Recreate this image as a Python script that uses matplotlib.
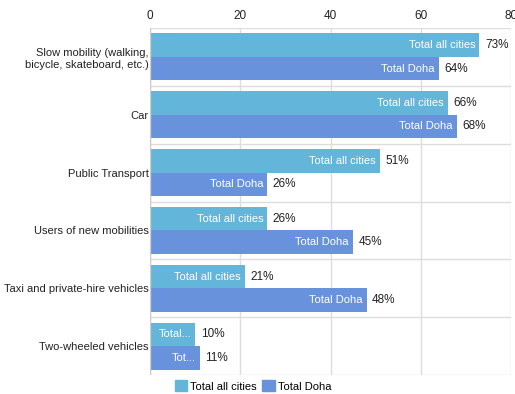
import matplotlib
matplotlib.use('Agg')
import matplotlib.pyplot as plt
import numpy as np

categories = ['Slow mobility (walking,\nbicycle, skateboard, etc.)', 'Car', 'Public Transport',
              'Users of new mobilities', 'Taxi and private-hire vehicles', 'Two-wheeled vehicles']
all_cities = [73, 66, 51, 26, 21, 10]
doha = [64, 68, 26, 45, 48, 11]
series_names = ['Total all cities', 'Total Doha']
# in-bar labels (shortened where the bar is too short)
all_cities_inner = ['Total all cities'] * 5 + ['Total...']
doha_inner = ['Total Doha'] * 5 + ['Tot...']
colors = ['#63b5da', '#6992dc']

plt.rcParams['font.family'] = ['Liberation Sans', 'DejaVu Sans']
plt.rcParams['font.size'] = 8

fig = plt.figure(figsize=(5.15, 3.94), dpi=100)
ax = fig.add_axes([150 / 515, 1 - 375 / 394, 361 / 515, 347 / 394])

y = np.arange(len(categories))
h = 0.405
bars1 = ax.barh(y - h / 2, all_cities, height=h, color=colors[0], zorder=2)
bars2 = ax.barh(y + h / 2, doha, height=h, color=colors[1], zorder=2)

ax.set_xlim(0, 80)
ax.set_ylim(len(categories) - 0.5, -0.5)
ax.set_xticks([0, 20, 40, 60, 80])
ax.xaxis.tick_top()
ax.tick_params(axis='x', length=0, pad=4, labelsize=8.5, colors='#222222')
ax.set_yticks(y)
ax.set_yticklabels(categories, fontsize=8, color='#222222')
ax.tick_params(axis='y', length=0, pad=1)
ax.set_yticks(np.arange(len(categories) + 1) - 0.5, minor=True)
ax.tick_params(axis='y', which='minor', length=0)
ax.grid(axis='x', color='#dddddd', linewidth=1, zorder=0)
ax.grid(axis='y', which='minor', color='#dddddd', linewidth=1, zorder=0)
ax.grid(axis='y', which='major', visible=False)
for s in ['left', 'right', 'top', 'bottom']:
    ax.spines[s].set_visible(False)
ax.axvline(0, color='#cccccc', linewidth=1, zorder=3)

for bars, vals, labels in [(bars1, all_cities, all_cities_inner), (bars2, doha, doha_inner)]:
    for bar, v, lab in zip(bars, vals, labels):
        yc = bar.get_y() + bar.get_height() / 2
        ax.annotate(lab, (v, yc), xytext=(-3, 0), textcoords='offset points',
                    ha='right', va='center', color='white', fontsize=8, zorder=4)
        ax.annotate('%d%%' % v, (v, yc), xytext=(4, 0), textcoords='offset points',
                    ha='left', va='center', fontsize=8.5, color='#222222', zorder=4)

handles = [plt.Rectangle((0, 0), 1, 1, color=c) for c in colors]
fig.legend(handles, series_names, loc='center', bbox_to_anchor=(253 / 515, 1 - 386 / 394),
           ncol=2, frameon=False, fontsize=8, handlelength=1.1, handleheight=1.1,
           handletextpad=0.3, columnspacing=0.5, borderaxespad=0)

fig.savefig('out.png', dpi=100)
